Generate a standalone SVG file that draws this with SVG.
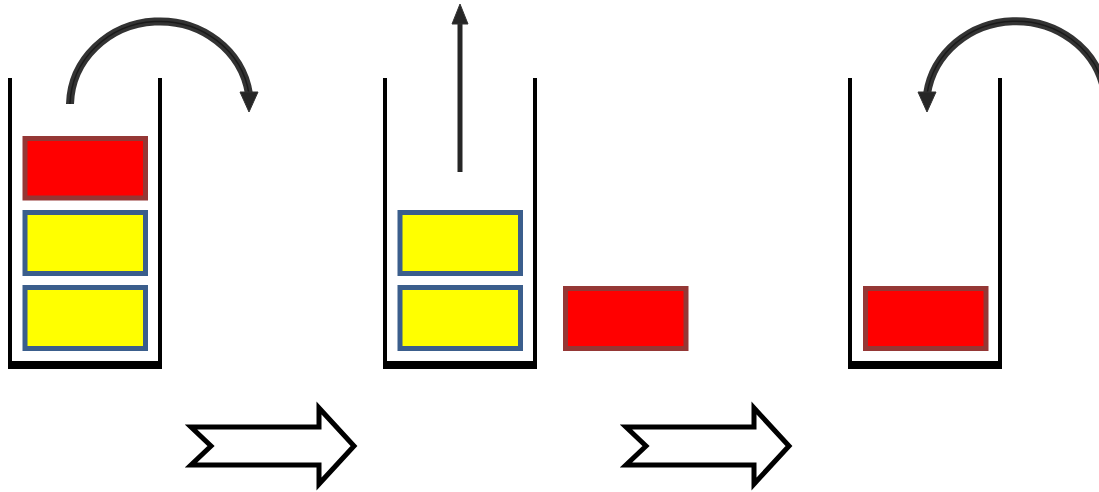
<svg xmlns="http://www.w3.org/2000/svg" width="1099" height="492" viewBox="0 0 1099 492">
<style>
.wall{stroke:#000;stroke-width:4;fill:none}
.base{stroke:#000;stroke-width:8;fill:none}
.red{fill:#FF0000;stroke:#953735;stroke-width:5}
.yel{fill:#FFFF00;stroke:#3B5E8C;stroke-width:5}
.arcO{fill:none;stroke:#333;stroke-width:8}
.arcI{fill:none;stroke:#1a1a1a;stroke-width:1.5}
.head{fill:#262626;stroke:#333;stroke-width:1}
.big{fill:#fff;stroke:#000;stroke-width:5;stroke-linejoin:miter}
</style>
<g id="stack1">
  <path class="wall" d="M10,78 V363 M160,78 V363"/>
  <path class="base" d="M8,365 H162"/>
  <rect class="red" x="25" y="138.5" width="120.5" height="59.5"/>
  <rect class="yel" x="25" y="212.5" width="120.5" height="61"/>
  <rect class="yel" x="25" y="287.5" width="120.5" height="61"/>
</g>
<g id="stack2">
  <path class="wall" d="M385,78 V363 M535,78 V363"/>
  <path class="base" d="M383,365 H537"/>
  <rect class="yel" x="400" y="212.5" width="120.5" height="61"/>
  <rect class="yel" x="400" y="287.5" width="120.5" height="61"/>
</g>
<g id="popped">
  <rect class="red" x="565.5" y="288.5" width="120.5" height="60"/>
</g>
<g id="stack3">
  <path class="wall" d="M850,78 V363 M1000,78 V363"/>
  <path class="base" d="M848,365 H1002"/>
  <rect class="red" x="865.5" y="288.5" width="120.5" height="60"/>
</g>
<g id="connectors">
  <path class="arcO" d="M70,104 A90,85 0 0 1 249,94"/>
  <path class="arcI" d="M70,104 A90,85 0 0 1 249,94"/>
  <polygon class="head" points="240,92 258,92 249,112"/>
  <path d="M460,172 V20" stroke="#262626" stroke-width="5" fill="none"/>
  <polygon class="head" points="452,24 468,24 460,4"/>
  <path class="arcO" d="M1104,88 A90,85 0 0 0 927,94"/>
  <path class="arcI" d="M1104,88 A90,85 0 0 0 927,94"/>
  <polygon class="head" points="918,92 936,92 927,112"/>
</g>
<g id="step1">
  <polygon class="big" points="191,427 319,427 319,408 354,446 319,484 319,465 191,465 211,446"/>
</g>
<g id="step2">
  <polygon class="big" points="626,427 754,427 754,408 789,446 754,484 754,465 626,465 646,446"/>
</g>
</svg>
